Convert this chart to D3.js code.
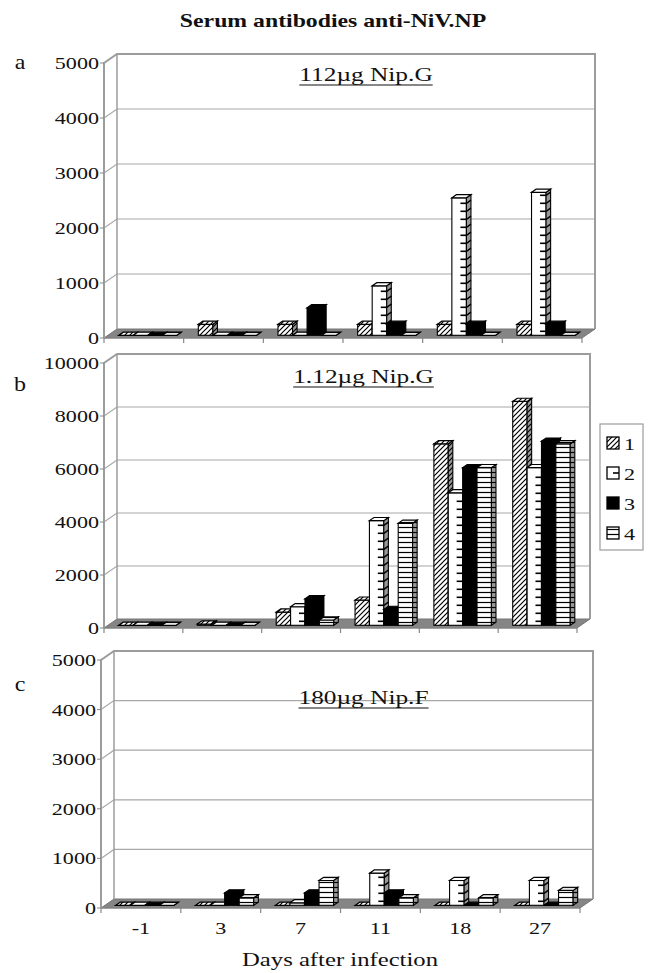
<!DOCTYPE html>
<html>
<head>
<meta charset="utf-8">
<script src="https://cdn.jsdelivr.net/npm/d3@7"></script>
<style>
  body { margin: 0; background: #fff; }
  text { font-family: "Liberation Serif", "Times New Roman", serif; fill: #111; }
</style>
</head>
<body>
<svg id="chart" width="650" height="973"></svg>
<script>
// categories and labels
var days = ["-1", "3", "7", "11", "18", "27"];
var groups = ["1", "2", "3", "4"];
var panelLetters = ["a", "b", "c"];
var panelTitles = ["112\u00b5g Nip.G", "1.12\u00b5g Nip.G", "180\u00b5g Nip.F"];
var panelMax = [5000, 10000, 5000];
var panelStep = [1000, 2000, 1000];
var chartTitle = "Serum antibodies anti-NiV.NP";
var xTitle = "Days after infection";

// values per day (rows) for groups 1..4 (columns)
var valuesA = [[0, 0, 0, 0], [200, 0, 0, 0], [200, 0, 500, 0], [200, 900, 200, 0], [200, 2500, 200, 0], [200, 2600, 200, 0]];
var valuesB = [[0, 0, 0, 0], [50, 0, 0, 0], [500, 700, 1000, 200], [950, 3950, 600, 3850], [6850, 5000, 5950, 5950], [8450, 5950, 6950, 6850]];
var valuesC = [[0, 0, 0, 0], [0, 0, 250, 150], [0, 50, 250, 500], [0, 650, 250, 150], [0, 500, 0, 150], [0, 500, 0, 300]];

// layout of the three panels (front plane of the 3-d box)
var layout = [
  {left: 104, right: 582, y0: 338, top: 63, letterY: 69, titleY: 81},
  {left: 104, right: 577, y0: 628, top: 363, letterY: 391, titleY: 383},
  {left: 101, right: 580, y0: 908, top: 660, letterY: 691, titleY: 704}
];
var depth = {x: 13, y: -9};
var SX = 1.3; // the original figure is stretched horizontally

var svg = d3.select("#chart");
var defs = svg.append("defs");

var hatch = defs.append("pattern").attr("id", "hatch")
  .attr("patternUnits", "userSpaceOnUse").attr("width", 5).attr("height", 5);
hatch.append("rect").attr("width", 5).attr("height", 5).attr("fill", "#fff");
hatch.append("path").attr("d", "M0,5 l5,-5 M-1,1 l2,-2 M4,6 l2,-2")
  .attr("stroke", "#000").attr("stroke-width", 1.2);

var hlines = defs.append("pattern").attr("id", "hlines")
  .attr("patternUnits", "userSpaceOnUse").attr("width", 6).attr("height", 5);
hlines.append("rect").attr("width", 6).attr("height", 5).attr("fill", "#fff");
hlines.append("path").attr("d", "M0,2.5 H6").attr("stroke", "#000").attr("stroke-width", 1.2);

var fills = {"1": "url(#hatch)", "2": "#fff", "3": "#000", "4": "url(#hlines)"};

function stretchText(sel, x, y, anchor, sx) {
  return sel.attr("transform", "translate(" + x + "," + y + ") scale(" + (sx || SX) + ",1)")
    .attr("text-anchor", anchor || "middle");
}

function pts(arr) {
  return arr.map(function(p) { return p[0] + "," + p[1]; }).join(" ");
}

// main title
stretchText(svg.append("text").text(chartTitle)
  .style("font-size", "19px").style("font-weight", "bold"), 333, 27, "middle", 1.25);

function drawPanel(p, values) {
  var L = layout[p];
  var dx = depth.x, dy = depth.y;
  var g = svg.append("g");

  var x0 = d3.scaleBand().domain(days).range([L.left, L.right]);
  var x1 = d3.scaleBand().domain(groups).range([0, x0.bandwidth()]).paddingOuter(0.74);
  var y = d3.scaleLinear().domain([0, panelMax[p]]).range([L.y0, L.top]);
  var ticks = d3.range(0, panelMax[p] + 1, panelStep[p]);

  // back wall
  g.append("polygon")
    .attr("points", pts([[L.left + dx, L.top + dy], [L.right + dx, L.top + dy], [L.right + dx, L.y0 + dy], [L.left + dx, L.y0 + dy]]))
    .attr("fill", "#fff");

  // gridlines, running over the side wall and the back wall
  g.selectAll(".grid").data(ticks.slice(1, -1)).join("polyline")
    .attr("points", function(t) { return pts([[L.left, y(t)], [L.left + dx, y(t) + dy], [L.right + dx, y(t) + dy]]); })
    .attr("fill", "none").attr("stroke", "#a8a8a8").attr("stroke-width", 1.2);

  // floor
  g.append("polygon")
    .attr("points", pts([[L.left, L.y0], [L.right, L.y0], [L.right + dx, L.y0 + dy], [L.left + dx, L.y0 + dy]]))
    .attr("fill", "#858585").attr("stroke", "#777").attr("stroke-width", 1);

  // wall edges
  g.append("polyline")
    .attr("points", pts([[L.left, L.y0], [L.left, L.top], [L.left + dx, L.top + dy], [L.right + dx, L.top + dy], [L.right + dx, L.y0 + dy]]))
    .attr("fill", "none").attr("stroke", "#9c9c9c").attr("stroke-width", 2);
  g.append("line")
    .attr("x1", L.left + dx).attr("y1", L.top + dy).attr("x2", L.left + dx).attr("y2", L.y0 + dy)
    .attr("stroke", "#9c9c9c").attr("stroke-width", 1.5);

  // y ticks and labels
  g.selectAll(".ytick").data(ticks).join("line")
    .attr("x1", L.left - 4).attr("x2", L.left)
    .attr("y1", function(t) { return y(t); }).attr("y2", function(t) { return y(t); })
    .attr("stroke", "#888").attr("stroke-width", 1);
  g.selectAll(".ylab").data(ticks).join("text")
    .text(function(t) { return t; })
    .style("font-size", "17px")
    .each(function(t) { stretchText(d3.select(this), L.left - 5, y(t) + 6, "end"); });

  // x axis line and category separators
  g.append("line").attr("x1", L.left).attr("x2", L.right).attr("y1", L.y0).attr("y2", L.y0)
    .attr("stroke", "#888").attr("stroke-width", 1.2);
  g.selectAll(".xsep").data(d3.range(days.length + 1)).join("line")
    .attr("x1", function(i) { return L.left + i * x0.step(); })
    .attr("x2", function(i) { return L.left + i * x0.step(); })
    .attr("y1", L.y0).attr("y2", L.y0 + 5)
    .attr("stroke", "#888").attr("stroke-width", 1.2);

  // bars, drawn left to right
  var bars = [];
  values.forEach(function(row, i) {
    row.forEach(function(v, j) { bars.push({day: days[i], grp: groups[j], v: v}); });
  });
  var fr = {x: dx * 0.3, y: dy * 0.3};
  var sd = {x: dx * 0.35, y: dy * 0.35};
  var w = x1.bandwidth();

  var bar = g.selectAll(".bar").data(bars).join("g");
  bar.each(function(d) {
    var b = d3.select(this);
    var x = x0(d.day) + x1(d.grp) + fr.x;
    var yt = y(d.v) + fr.y, yb = L.y0 + fr.y;
    var fill = fills[d.grp];
    // front face
    b.append("rect").attr("x", x).attr("y", yt).attr("width", w).attr("height", yb - yt)
      .attr("fill", fill).attr("stroke", "#000").attr("stroke-width", 1.1);
    // side face
    var side = [[x + w, yt], [x + w + sd.x, yt + sd.y], [x + w + sd.x, yb + sd.y], [x + w, yb]];
    b.append("polygon").attr("points", pts(side))
      .attr("fill", fill).attr("stroke", "#000").attr("stroke-width", 1.1);
    b.append("polygon").attr("points", pts(side))
      .attr("fill", "#000").attr("fill-opacity", 0.4);
    // dash marks for group 2
    if (d.grp === "2") {
      d3.range(yb - 4, yt + 2, -8).forEach(function(yy) {
        b.append("line").attr("x1", x + w - 6).attr("x2", x + w).attr("y1", yy).attr("y2", yy)
          .attr("stroke", "#000").attr("stroke-width", 1.6);
        b.append("line").attr("x1", x + w).attr("x2", x + w + sd.x).attr("y1", yy).attr("y2", yy + sd.y)
          .attr("stroke", "#000").attr("stroke-width", 1.4);
      });
    }
    // top face
    b.append("polygon")
      .attr("points", pts([[x, yt], [x + w, yt], [x + w + sd.x, yt + sd.y], [x + sd.x, yt + sd.y]]))
      .attr("fill", fill).attr("stroke", "#000").attr("stroke-width", 1.2);
  });

  // panel letter and panel title
  stretchText(g.append("text").text(panelLetters[p]).style("font-size", "20px"), 20, L.letterY, "middle", 1.2);
  var cx = (L.left + L.right) / 2 + 23;
  var tt = stretchText(g.append("text").text(panelTitles[p]).style("font-size", "19.5px"), cx, L.titleY);
  var tw = tt.node().getComputedTextLength() * SX;
  g.append("line").attr("x1", cx - tw / 2).attr("x2", cx + tw / 2)
    .attr("y1", L.titleY + 4).attr("y2", L.titleY + 4)
    .attr("stroke", "#111").attr("stroke-width", 1.2);

  return {x0: x0};
}

drawPanel(0, valuesA);
drawPanel(1, valuesB);
var last = drawPanel(2, valuesC);

// x tick labels under the last panel
svg.selectAll(".xlab").data(days).join("text")
  .text(function(d) { return d; })
  .style("font-size", "17px")
  .each(function(d) {
    stretchText(d3.select(this), last.x0(d) + last.x0.bandwidth() / 2, 934);
  });
stretchText(svg.append("text").text(xTitle).style("font-size", "19px"), 340, 966);

// legend
var lg = svg.append("g");
lg.append("rect").attr("x", 600).attr("y", 424).attr("width", 43).attr("height", 126)
  .attr("fill", "#fff").attr("stroke", "#9c9c9c").attr("stroke-width", 1.2);
var item = lg.selectAll(".item").data(groups).join("g")
  .attr("transform", function(d, i) { return "translate(607," + (437 + i * 30) + ")"; });
item.append("rect").attr("width", 12).attr("height", 12)
  .attr("fill", function(d) { return fills[d]; }).attr("stroke", "#000").attr("stroke-width", 1.3);
item.filter(function(d) { return d === "2"; }).append("line")
  .attr("x1", 6).attr("x2", 12).attr("y1", 6).attr("y2", 6)
  .attr("stroke", "#000").attr("stroke-width", 1.6);
item.append("text").text(function(d) { return d; })
  .style("font-size", "17px")
  .attr("transform", "translate(17,12.5) scale(" + SX + ",1)");
</script>
</body>
</html>
